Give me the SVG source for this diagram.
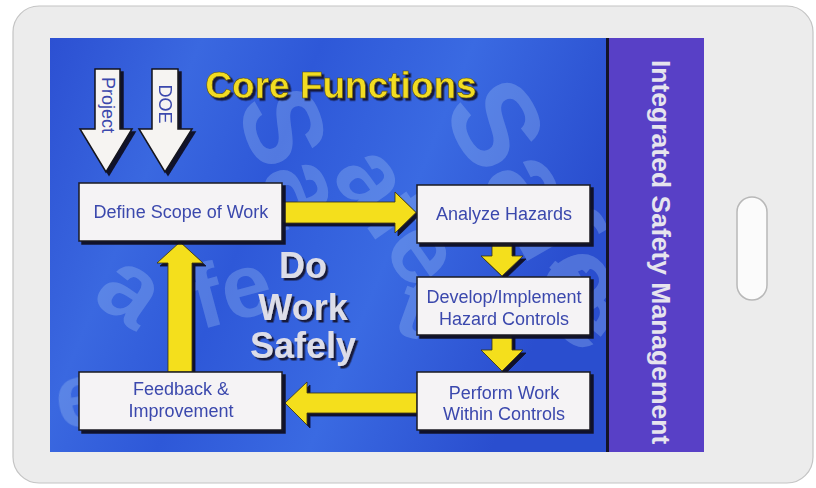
<svg xmlns="http://www.w3.org/2000/svg" width="816" height="488" viewBox="0 0 816 488">
<defs>
<linearGradient id="bg" x1="0" y1="0" x2="1" y2="0.3">
<stop offset="0" stop-color="#2c50d2"/>
<stop offset="0.25" stop-color="#3a68e0"/>
<stop offset="0.45" stop-color="#2e58d8"/>
<stop offset="0.7" stop-color="#3a6ae2"/>
<stop offset="1" stop-color="#2a4ecf"/>
</linearGradient>
<filter id="sh" x="-10%" y="-10%" width="130%" height="140%">
<feDropShadow dx="3" dy="3" stdDeviation="0.5" flood-color="#101020" flood-opacity="0.95"/>
</filter>
<filter id="tsh" x="-10%" y="-10%" width="130%" height="140%">
<feDropShadow dx="2.5" dy="2.5" stdDeviation="0.4" flood-color="#151530" flood-opacity="0.95"/>
</filter>
</defs>
<style>
.box{fill:#f5f3f5;stroke:#1a1a22;stroke-width:1.5;filter:url(#sh)}
.lbl{font-family:"Liberation Sans",Arial,sans-serif;font-size:18px;fill:#3b48ad;text-anchor:middle}
.yarrow{fill:#f4df1e;stroke:#3a3410;stroke-width:0.8;filter:url(#sh)}
.warrow{fill:#f6f4f2;stroke:#15151c;stroke-width:1.5;filter:url(#sh)}
.bgl{font-family:"Liberation Sans",Arial,sans-serif;font-weight:bold;fill:#a9c8f4;opacity:0.3}
</style>
<rect width="816" height="488" fill="#ffffff"/>
<rect x="13" y="6" width="800" height="477" rx="26" fill="#ececec" stroke="#c4c4c4" stroke-width="1.2"/>
<rect x="737" y="197" width="30" height="103" rx="15" fill="#fbfbfb" stroke="#b8b8b8" stroke-width="1.5"/>

<g id="panel">
<rect x="50" y="38" width="558" height="414" fill="url(#bg)"/>
<g class="bgl">
<text font-size="120" transform="translate(440,110) rotate(60)">Safe</text>
<text font-size="110" transform="translate(235,105) rotate(70)">Sa</text>
<text font-size="100" transform="translate(330,175) rotate(55)">afe</text>
<text font-size="100" transform="translate(90,300) rotate(35)">a</text>
<text font-size="90" transform="translate(200,330) rotate(-15)">fe</text>
<text font-size="90" transform="translate(390,330) rotate(20)">t</text>
<text font-size="100" transform="translate(520,300) rotate(40)">fe</text>
<text font-size="90" transform="translate(60,430) rotate(-10)">e</text>
</g>
<rect x="606" y="38" width="3" height="414" fill="#141428"/>
<rect x="609" y="38" width="95" height="414" fill="#5840c6"/>
<text transform="translate(652,60) rotate(90)" font-family="'Liberation Sans',Arial,sans-serif" font-weight="bold" font-size="26.5" fill="#e6e4ee">Integrated Safety Management</text>
</g>

<g id="title">
<text x="341" y="98" filter="url(#tsh)" font-family="'Liberation Sans',Arial,sans-serif" font-weight="bold" font-size="37" fill="#f2dc22" text-anchor="middle" stroke="#5a5010" stroke-width="0.6">Core Functions</text>
</g>

<g id="center-text" font-family="'Liberation Sans',Arial,sans-serif" font-weight="bold" font-size="36" fill="#dddde8" text-anchor="middle" filter="url(#tsh)">
<text x="303" y="278">Do</text>
<text x="303" y="320">Work</text>
<text x="303" y="358">Safely</text>
</g>

<g id="connectors">
<polygon class="yarrow" points="282,202 395,202 395,192 416,212.5 395,233 395,223 282,223"/>
<polygon class="yarrow" points="492,243 512,243 512,256 523,256 502,276 481,256 492,256"/>
<polygon class="yarrow" points="492,335 512,335 512,350 523,350 502,371 481,350 492,350"/>
<polygon class="yarrow" points="417,393 307,393 307,382 285,403 307,425 307,413 417,413"/>
<polygon class="yarrow" points="168,372 168,263 157,263 180,242 203,263 192,263 192,372"/>
</g>

<g id="input-project">
<polygon class="warrow" points="95,69 120,69 120,129 132,129 106,172 80,129 95,129"/>
<text class="lbl" transform="translate(102,105) rotate(90)">Project</text>
</g>
<g id="input-doe">
<polygon class="warrow" points="152,69 178,69 178,129 192,129 165,172 139,129 152,129"/>
<text class="lbl" transform="translate(159,104) rotate(90)">DOE</text>
</g>

<g id="define-scope">
<rect class="box" x="79" y="183" width="203" height="58"/>
<text class="lbl" x="181" y="218">Define Scope of Work</text>
</g>
<g id="analyze-hazards">
<rect class="box" x="417" y="185" width="173" height="58"/>
<text class="lbl" x="504" y="220">Analyze Hazards</text>
</g>
<g id="develop-controls">
<rect class="box" x="417" y="277" width="173" height="58"/>
<text class="lbl" x="504" y="303">Develop/Implement</text>
<text class="lbl" x="504" y="325">Hazard Controls</text>
</g>
<g id="perform-work">
<rect class="box" x="417" y="372" width="173" height="58"/>
<text class="lbl" x="504" y="399">Perform Work</text>
<text class="lbl" x="504" y="420">Within Controls</text>
</g>
<g id="feedback">
<rect class="box" x="79" y="372" width="203" height="58"/>
<text class="lbl" x="181" y="395">Feedback &amp;</text>
<text class="lbl" x="181" y="417">Improvement</text>
</g>
</svg>
